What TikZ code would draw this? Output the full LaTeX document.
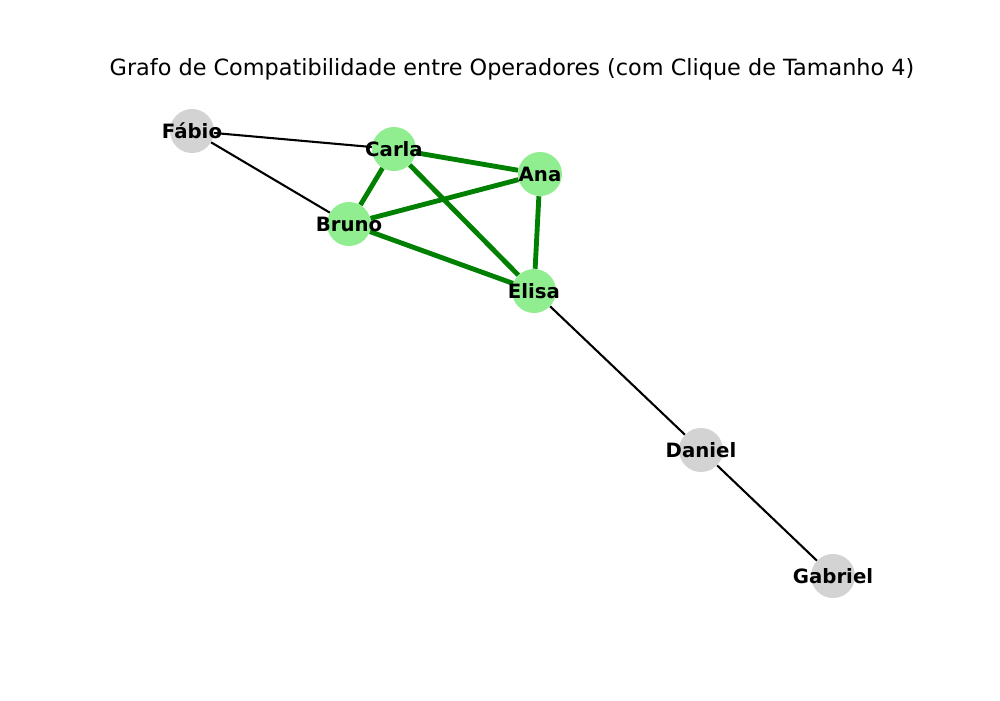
\documentclass[tikz,border=0pt]{standalone}
\usepackage{fontspec}
\setmainfont{DejaVu Sans}
\begin{document}
\begin{tikzpicture}[x=0.72pt,y=-0.72pt,
  vtx/.style={circle,minimum size=31.7pt,inner sep=0pt},
  cl/.style={vtx,fill={rgb,255:red,144;green,238;blue,144}},
  ot/.style={vtx,fill={rgb,255:red,211;green,211;blue,211}},
  lbl/.style={font=\bfseries\fontsize{14.2pt}{16pt}\selectfont,text=black,inner sep=0pt},
  ge/.style={draw={rgb,255:red,0;green,128;blue,0},line width=3.5pt},
  be/.style={draw=black,line width=1.5pt}]
\useasboundingbox (0,0) rectangle (1000,700);
\node[font=\fontsize{16.1pt}{18pt}\selectfont,inner sep=0pt] (title) at (512,69) {Grafo de Compatibilidade entre Operadores (com Clique de Tamanho 4)};
\node[ot] (F) at (192,131) {};
\node[cl] (C) at (394,149) {};
\node[cl] (A) at (540,174) {};
\node[cl] (B) at (349,224) {};
\node[cl] (E) at (534,291) {};
\node[ot] (D) at (701,450) {};
\node[ot] (G) at (833,576) {};
\path[be] (F) -- (C) (F) -- (B) (E) -- (D) (D) -- (G);
\path[ge] (C) -- (A) (C) -- (B) (C) -- (E) (A) -- (B) (A) -- (E) (B) -- (E);
\node[lbl] (lF) at (F) {Fábio};
\node[lbl] (lC) at (C) {Carla};
\node[lbl] (lA) at (A) {Ana};
\node[lbl] (lB) at (B) {Bruno};
\node[lbl] (lE) at (E) {Elisa};
\node[lbl] (lD) at (D) {Daniel};
\node[lbl] (lG) at (G) {Gabriel};
\end{tikzpicture}
\end{document}
